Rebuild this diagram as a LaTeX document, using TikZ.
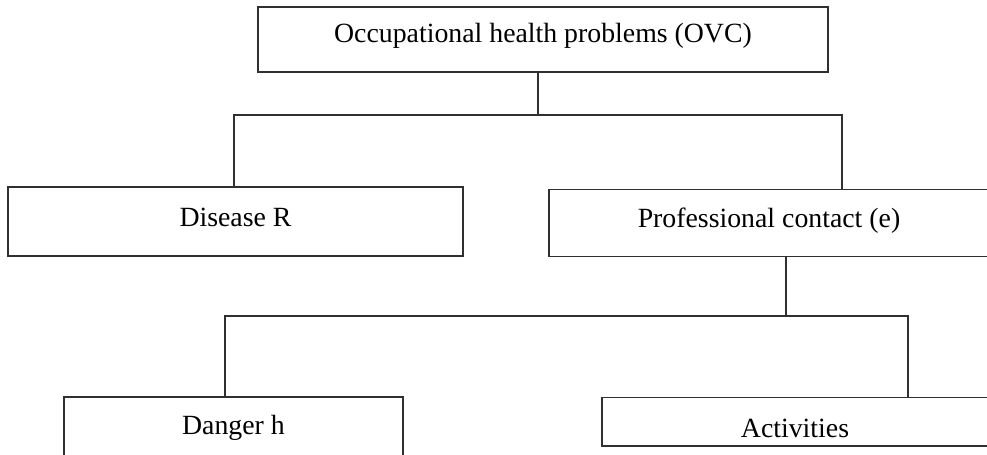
\documentclass[tikz,border=0pt]{standalone}
\usepackage{fontspec}
\setmainfont{Liberation Serif}
\usepackage{xcolor}
\definecolor{lineblack}{HTML}{303030}
\usepackage{tikz}
\usetikzlibrary{positioning,calc}

\tikzset{
  box/.style={draw=lineblack, line width=0.7pt, rectangle, inner sep=0pt,
    font=\fontsize{13.9}{16}\selectfont, text height=9.2pt, text depth=#1},
  link/.style={draw=lineblack, line width=0.7pt}
}

\begin{document}
\begin{tikzpicture}[x=0.5pt,y=-0.5pt]
  \useasboundingbox (0,0) rectangle (987,455);
  \clip (0,0) rectangle (987,455);
  \node[box=6.5pt, minimum width=285pt, minimum height=32.5pt] (ovc) at (543,39.5) {Occupational health problems (OVC)};
  \node[box=4.5pt, minimum width=227.5pt, minimum height=34.5pt] (disease) at (235.5,221.5) {Disease R};
  \node[box=5pt, minimum width=220pt, minimum height=33.75pt] (contact) at (769,223) {Professional contact (e)};
  \node[box=4.5pt, minimum width=169.5pt, minimum height=32.5pt] (danger) at (233.5,429.5) {Danger h};
  \node[box=0pt, text height=16pt, minimum width=193pt, minimum height=24.25pt] (activ) at (795,421.75) {Activities};

  \coordinate (hub1) at (538,115);
  \coordinate (bar1l) at (234,115);
  \coordinate (bar1r) at (842,115);
  \coordinate (hub2) at (786,316);
  \coordinate (bar2l) at (225,316);
  \coordinate (bar2r) at (908,316);

  \draw[link] (ovc.south -| hub1) -- (hub1);
  \draw[link] (bar1l |- disease.north) -- (bar1l) -- (bar1r) -- (bar1r |- contact.north);
  \draw[link] (contact.south -| hub2) -- (hub2);
  \draw[link] (bar2l |- danger.north) -- (bar2l) -- (bar2r) -- (bar2r |- activ.north);
\end{tikzpicture}
\end{document}
